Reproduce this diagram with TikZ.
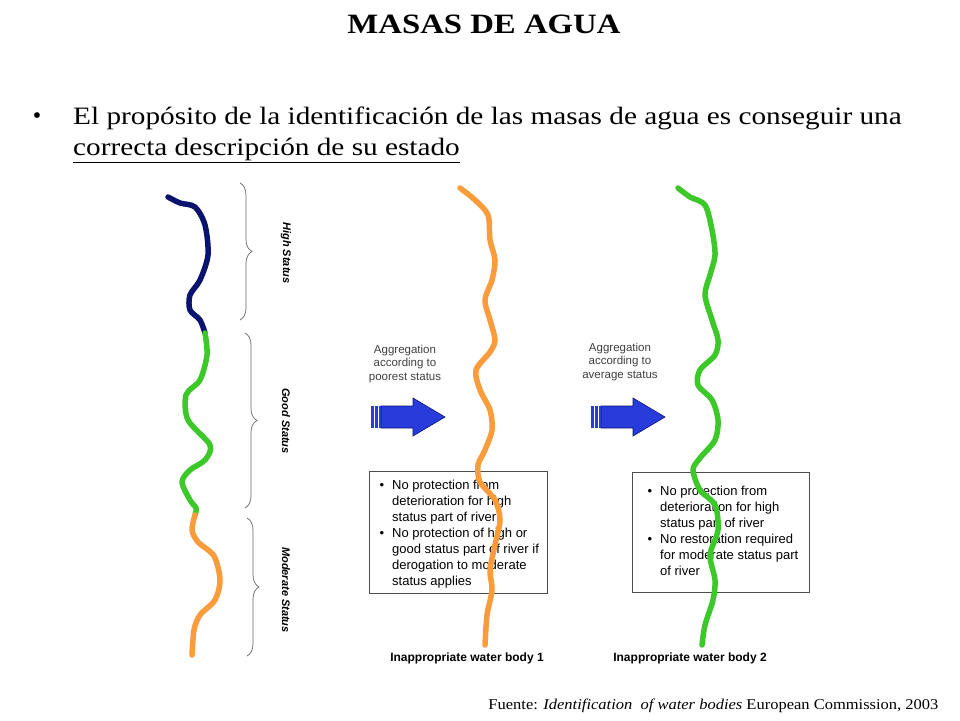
\documentclass[tikz,border=0pt]{standalone}
\usepackage{fontspec}
\setmainfont{Liberation Serif}
\newfontfamily\arial{Liberation Sans}
\usetikzlibrary{decorations.pathreplacing}
\definecolor{navy}{RGB}{10,20,110}
\definecolor{rgreen}{RGB}{60,200,40}
\definecolor{rorange}{RGB}{250,155,60}
\definecolor{arrowblue}{RGB}{40,60,220}
\tikzset{
 river/.style={line width=5.5pt,line join=round,line cap=round},
 lbl/.style={font=\arial\fontsize{11.5}{13.5}\selectfont,align=center,text=black!75},
 brace/.style={draw=black!60,line width=0.7pt,decorate,decoration={brace,amplitude=12pt}},
 stat/.style={font=\arial\bfseries\itshape\fontsize{11}{13}\selectfont,rotate=-90},
 bigarrow/.style={fill=arrowblue,draw=navy,line width=0.6pt},
 boxframe/.style={draw=black!70,line width=0.8pt,fill=white},
 boxtxt/.style={anchor=north west,font=\arial\fontsize{13}{16}\selectfont,inner sep=0}
}
\newcommand{\blist}[2]{\begin{minipage}[t]{#1}\raggedright\hyphenpenalty=10000\exhyphenpenalty=10000\begin{list}{\textbullet}{\leftmargin=16pt\labelwidth=8pt\labelsep=8pt\itemsep=0pt\parsep=0pt\topsep=0pt}#2\end{list}\end{minipage}}
\begin{document}
\begin{tikzpicture}[x=1pt,y=-1pt]
\useasboundingbox[fill=white] (0,0) rectangle (960,720);
\node[font=\bfseries\fontsize{28}{30}\selectfont] (title) at (484,24) {\scalebox{1.17}[1]{MASAS DE AGUA}};
\node[font=\fontsize{24}{26}\selectfont] (bul) at (37,118) {\textbullet};
\node[anchor=west,font=\fontsize{25}{27}\selectfont,inner sep=0] (l1) at (73,118) {\scalebox{1.17}[1]{El propósito de la identificación de las masas de agua es conseguir una}};
\node[anchor=west,font=\fontsize{25}{27}\selectfont,inner sep=0] (l2) at (73,150) {\scalebox{1.17}[1]{\underline{correcta descripción de su estado}}};
% left river
\draw[river,navy] plot[smooth] coordinates {(168,197)(180,203)(195,207)(205,225)(208,255)(200,280)(190,295)(190,310)(200,320)(205,333)};
\draw[river,rgreen] plot[smooth] coordinates {(205,333)(207,355)(200,380)(186,395)(188,420)(210,445)(205,460)(190,470)(182,482)(190,500)(196,508)(195,515)};
\draw[river,rorange] plot[smooth] coordinates {(195,515)(192,530)(198,542)(214,556)(220,580)(215,600)(200,615)(194,630)(192,655)};
\coordinate (b1t) at (240,183); \coordinate (b1b) at (240,320);
\coordinate (b2t) at (245,333); \coordinate (b2b) at (245,508);
\coordinate (b3t) at (247,518); \coordinate (b3b) at (247,656);
\draw[brace] (b1t) -- (b1b);
\draw[brace] (b2t) -- (b2b);
\draw[brace] (b3t) -- (b3b);
\node[stat] (hs) at (286,253) {High Status};
\node[stat] (gs) at (286,421) {Good Status};
\node[stat] (ms) at (286,590) {Moderate Status};
% arrows
\node[lbl] (ag1) at (405,364) {Aggregation\\according to\\poorest status};
\node[lbl] (ag2) at (620,362) {Aggregation\\according to\\average status};
\foreach \x in {371,591}{
 \draw[bigarrow] (\x+10,406) -- (\x+42,406) -- (\x+42,398) -- (\x+74,417) -- (\x+42,436) -- (\x+42,428) -- (\x+10,428) -- cycle;
 \fill[arrowblue] (\x,406) rectangle (\x+2.5,428);
 \fill[arrowblue] (\x+4,406) rectangle (\x+6.5,428);
 \fill[arrowblue] (\x+8,406) rectangle (\x+10,428);
}
% boxes
\draw[boxframe] (369,471) rectangle (547,593);
\draw[boxframe] (632,472) rectangle (809,592);
\node[boxtxt] (box1) at (376,480) {\blist{172pt}{%
\item No protection from deterioration for high status part of river
\item No protection of high or good status part of river if derogation to moderate status applies}};
\node[boxtxt] (box2) at (644,486) {\blist{160pt}{%
\item No protection from deterioration for high status part of river
\item No restoration required for moderate status part of river}};
% rivers over boxes
\draw[river,rorange] plot[smooth] coordinates {(460,188)(475,200)(488,215)(490,240)(495,260)(492,280)(485,300)(490,320)(495,340)(490,352)(476,370)(480,390)(490,410)(492,430)(485,450)(478,465)(480,482)(495,500)(500,520)(495,545)(490,570)(492,590)(487,615)(485,645)};
\draw[river,rgreen] plot[smooth] coordinates {(678,188)(690,197)(705,205)(712,230)(715,255)(710,275)(705,295)(712,320)(718,340)(715,355)(700,370)(698,385)(712,400)(718,420)(715,440)(700,458)(693,470)(700,490)(715,505)(718,530)(710,555)(715,580)(713,600)(705,625)(702,645)};
\node[font=\arial\bfseries\fontsize{12}{14}\selectfont] (w1) at (467,658) {Inappropriate water body 1};
\node[font=\arial\bfseries\fontsize{12}{14}\selectfont] (w2) at (690,658) {Inappropriate water body 2};
\node[anchor=east,font=\fontsize{15}{16}\selectfont] (src) at (942,706) {\scalebox{1.1}[1]{Fuente: \textit{Identification \ of water bodies} European Commission, 2003}};
\end{tikzpicture}
\end{document}
